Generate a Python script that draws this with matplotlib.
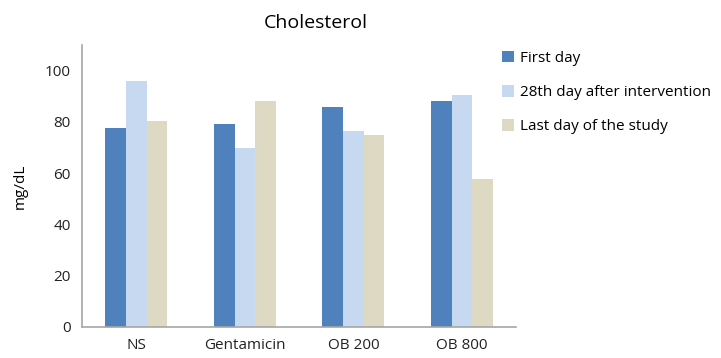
import matplotlib.pyplot as plt
import numpy as np

categories = ["NS", "Gentamicin", "OB 200", "OB 800"]
series_names = ["First day", "28th day after intervention", "Last day of the study"]
first_day = [77.8, 79.1, 86.0, 88.2]
day_28 = [96.0, 69.8, 76.6, 90.4]
last_day = [80.2, 88.1, 74.8, 57.6]
colors = ["#4F81BD", "#C6D9F1", "#DDD9C3"]

plt.rcParams["font.family"] = ["Open Sans", "DejaVu Sans"]

fig = plt.figure(figsize=(7.21, 3.58), dpi=100)
ax = fig.add_axes([0.1137, 0.0866, 0.6023, 0.7874])

x = np.arange(len(categories))
width = 0.19
for i, (vals, name) in enumerate(zip([first_day, day_28, last_day], series_names)):
    ax.bar(x + (i - 1) * width, vals, width=width, color=colors[i], label=name)

ax.set_xlim(-0.5, len(categories) - 0.5)
ax.set_ylim(0, 110)
ax.set_yticks([0, 20, 40, 60, 80, 100])
ax.set_xticks(x)
ax.set_xticklabels(categories)
ax.tick_params(length=0, labelsize=11, colors="#222222", pad=8)
ax.set_ylabel("mg/dL", fontsize=11, labelpad=12)

for side in ["top", "right"]:
    ax.spines[side].set_visible(False)
for side in ["left", "bottom"]:
    ax.spines[side].set_color("#A6A6A6")
    ax.spines[side].set_linewidth(1.2)

fig.text(0.438, 0.935, "Cholesterol", fontsize=14, ha="center", va="center")

fig.legend(
    loc="upper left",
    bbox_to_anchor=(0.677, 0.897),
    frameon=False,
    fontsize=11,
    handlelength=0.8,
    handleheight=0.8,
    handletextpad=0.4,
    labelspacing=1.25,
)

fig.savefig("out.png", dpi=100)
